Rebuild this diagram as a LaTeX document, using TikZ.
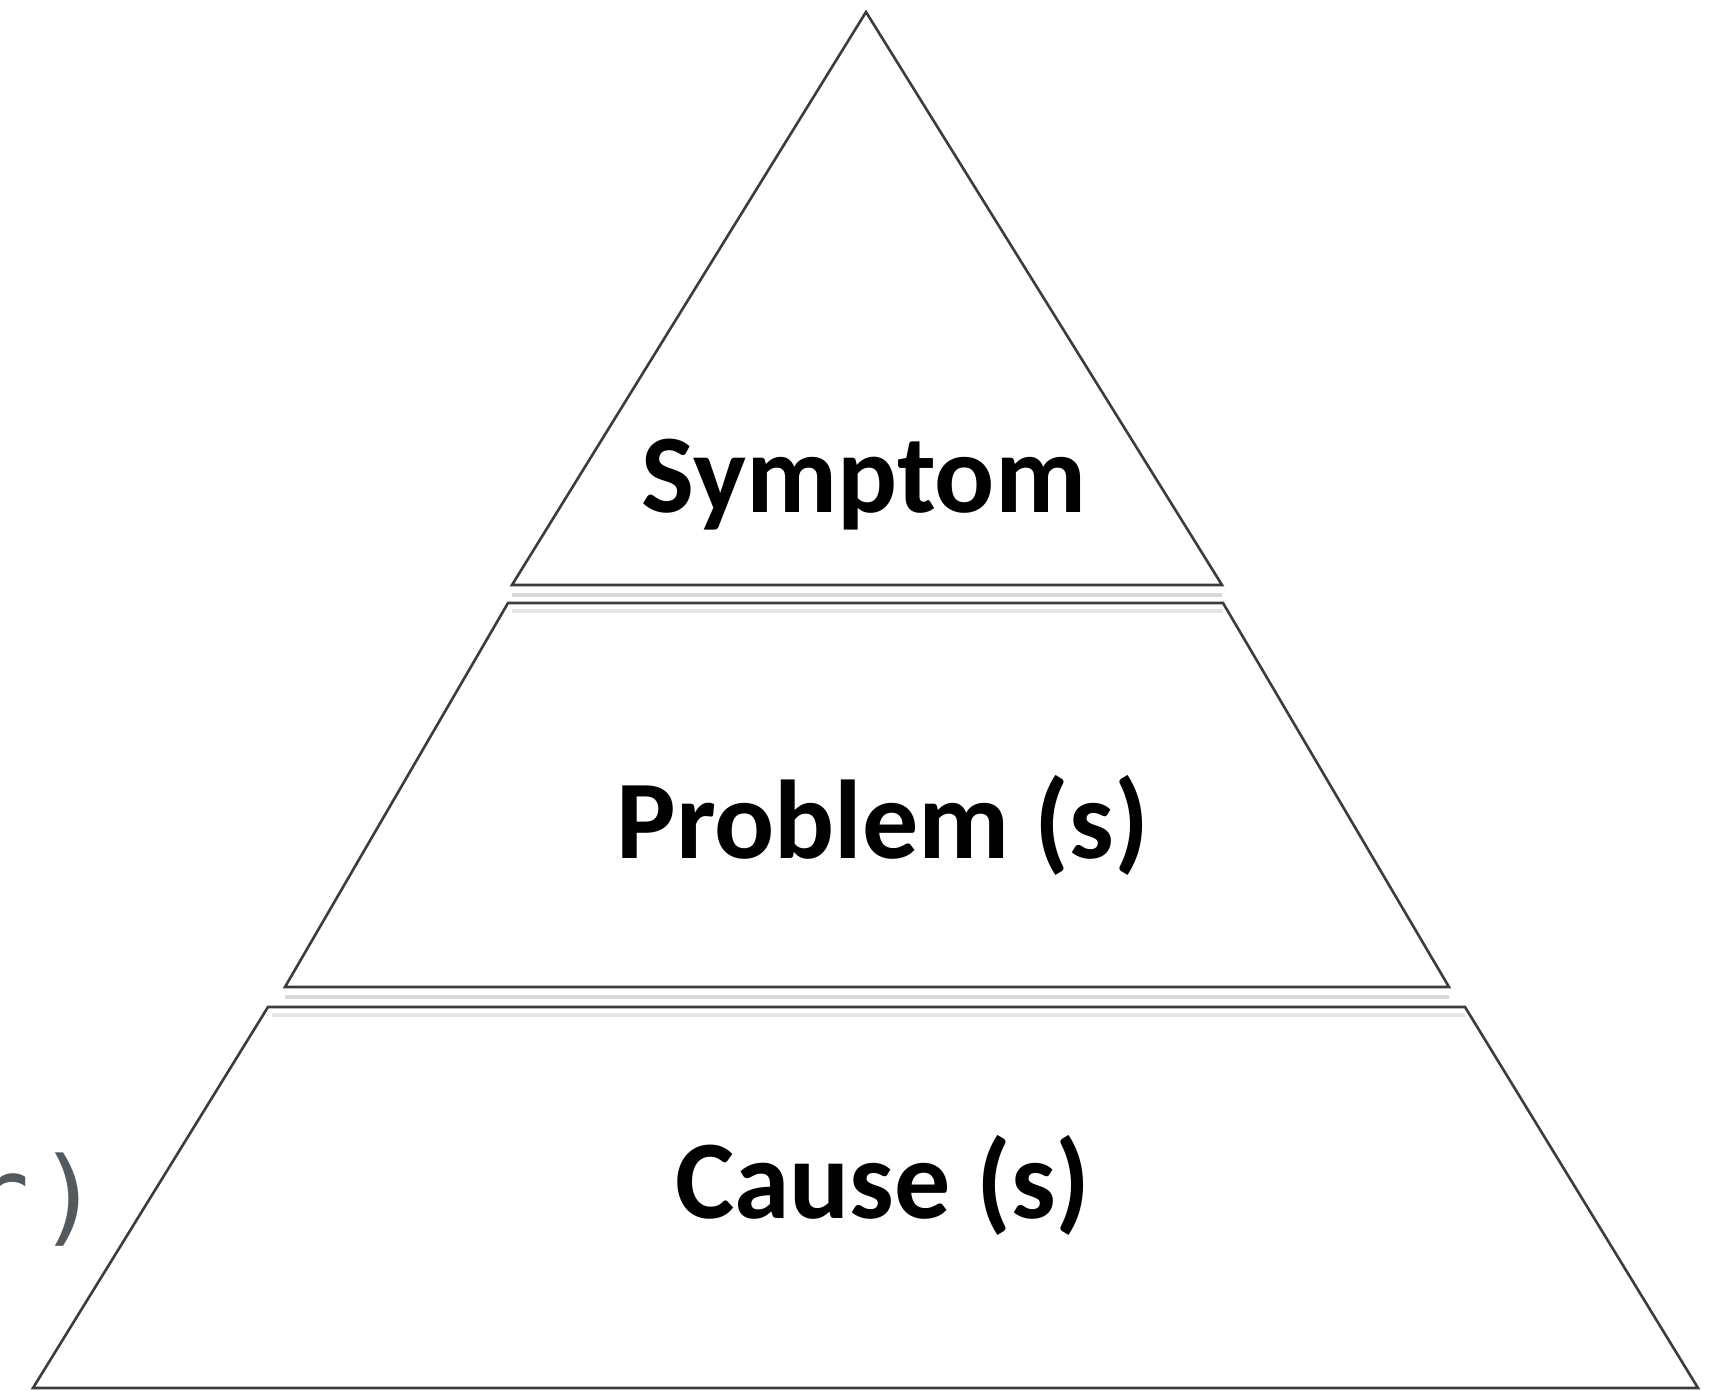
\documentclass[tikz,border=0pt]{standalone}
\usepackage{fontspec}
\setmainfont{Carlito}
\newfontfamily\codefont{DejaVu Sans Mono}
\definecolor{edgegray}{HTML}{3C3C3C}
\definecolor{codegray}{HTML}{54595D}
\begin{document}
\begin{tikzpicture}[x=0.5pt,y=-0.5pt,
  tier/.style={draw=edgegray, line width=1.3pt, line join=miter, fill=white},
  softline/.style={draw=black!15, line width=2.2pt},
  tierlabel/.style={font=\fontsize{56}{60}\selectfont\bfseries, inner sep=0pt, anchor=base}]
\useasboundingbox[fill=white] (0,0) rectangle (1718,1391);

% corner points of the three tiers
\coordinate (apex) at (866,12);
\coordinate (t-bl) at (512,585);  \coordinate (t-br) at (1222,585);
\coordinate (m-tl) at (508,603);  \coordinate (m-tr) at (1223,603);
\coordinate (m-bl) at (285,987);  \coordinate (m-br) at (1449,987);
\coordinate (b-tl) at (268,1007); \coordinate (b-tr) at (1465,1007);
\coordinate (b-bl) at (33,1388);  \coordinate (b-br) at (1698,1388);

% soft shading below the horizontal edges
\draw[softline] ([yshift=-5pt]t-bl) -- ([yshift=-5pt]t-br);
\draw[softline] ([yshift=-5pt]m-bl) -- ([yshift=-5pt]m-br);

% tiers
\draw[tier] (apex) -- (t-br) -- (t-bl) -- cycle;
\draw[tier] (m-tl) -- (m-tr) -- (m-br) -- (m-bl) -- cycle;
\draw[tier] (b-tl) -- (b-tr) -- (b-br) -- (b-bl) -- cycle;

% shading just inside the top edges
\draw[softline, draw=black!10] ([yshift=-4pt]m-tl) ++(4,0) -- ([yshift=-4pt]m-tr);
\draw[softline, draw=black!10] ([yshift=-4pt]b-tl) ++(4,0) -- ([yshift=-4pt]b-tr);

% labels
\node[tierlabel] (symptom) at (864,512) {Symptom};
\node[tierlabel] (problem) at (883,858) {Problem (s)};
\node[tierlabel] (cause)   at (883,1218) {Cause (s)};

% code fragment at the left edge
\node[font=\codefont\fontsize{52.5}{60}\selectfont, text=codegray,
      inner sep=0pt, anchor=base west] (codetail) at (-34,1232) {r\kern4pt)};
\end{tikzpicture}
\end{document}
